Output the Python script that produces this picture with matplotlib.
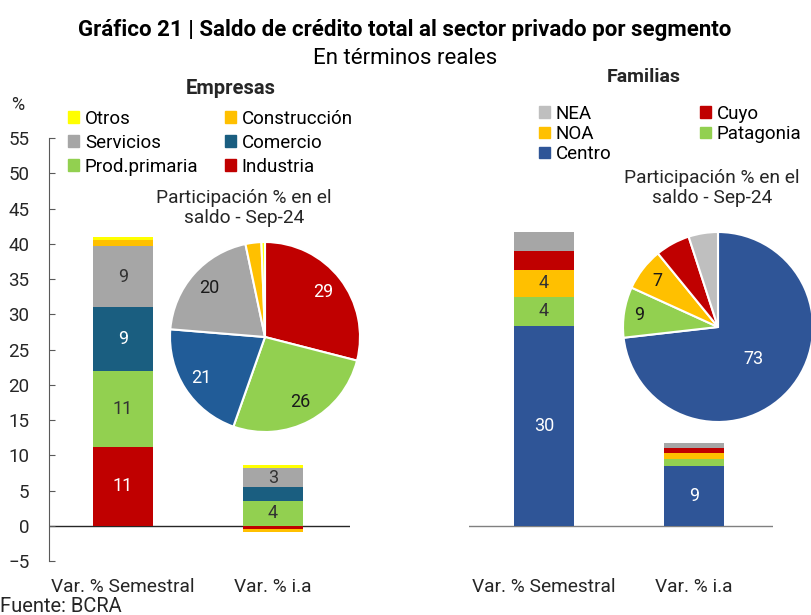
import numpy as np
import matplotlib
matplotlib.use("Agg")
import matplotlib.pyplot as plt
from matplotlib.patches import Patch

plt.rcParams['font.family'] = ['Roboto', 'DejaVu Sans']
NARROW = ['Liberation Sans Narrow', 'Roboto', 'DejaVu Sans']

# ---- data ----
categories = ["Var. % Semestral", "Var. % i.a"]

# Empresas (stack order bottom -> top)
emp_series = ["Industria", "Prod.primaria", "Comercio", "Servicios", "Construcción", "Otros"]
emp_values = {
    "Industria":     [11.2, -0.45],
    "Prod.primaria": [10.8, 3.5],
    "Comercio":      [9.0, 2.0],
    "Servicios":     [8.7, 2.65],
    "Construcción":  [0.9, -0.5],
    "Otros":         [0.4, 0.4],
}
emp_pie_labels = ["Industria", "Prod.primaria", "Comercio", "Servicios", "Construcción", "Otros"]
emp_pie_values = [29.0, 26.4, 20.9, 20.4, 2.7, 0.6]

# Familias
fam_series = ["Centro", "Patagonia", "NOA", "Cuyo", "NEA"]
fam_values = {
    "Centro":    [29.6, 8.9],
    "Patagonia": [4.4, 1.0],
    "NOA":       [3.9, 0.85],
    "Cuyo":      [2.8, 0.85],
    "NEA":       [2.9, 0.75],
}
fam_pie_labels = ["Centro", "Patagonia", "NOA", "Cuyo", "NEA"]
fam_pie_values = [73.2, 8.6, 7.3, 5.9, 5.0]

# ---- styles ----
emp_colors = {"Industria": "#C00000", "Prod.primaria": "#92D050", "Comercio": "#1A5E80",
              "Servicios": "#A6A6A6", "Construcción": "#FFC000", "Otros": "#FFFF00"}
emp_pie_colors = {**emp_colors, "Comercio": "#215C98"}
fam_colors = {"Centro": "#2F5597", "Patagonia": "#92D050", "NOA": "#FFC000",
              "Cuyo": "#C00000", "NEA": "#A6A6A6"}
fam_pie_colors = {**fam_colors, "NEA": "#BFBFBF"}
white_text = {"Industria", "Comercio", "Centro"}
DARK = "#262626"

W, H = 812, 615
fig = plt.figure(figsize=(W / 100, H / 100), dpi=100)


def box(x0, y0, x1, y1):
    return [x0 / W, 1 - y1 / H, (x1 - x0) / W, (y1 - y0) / H]


def ftext(x, y, s, color=DARK, **kw):
    fig.text(x / W, 1 - y / H, s, ha="center", va="center", color=color, **kw)


def stacked(ax, series, values, colors, thresh):
    x = np.arange(len(categories))
    pos = np.zeros(len(categories))
    neg = np.zeros(len(categories))
    for name in series:
        v = np.array(values[name])
        base = np.where(v >= 0, pos, neg)
        ax.bar(x, v, 0.4, bottom=base, color=colors[name], linewidth=0, zorder=2)
        for xi, vi, bi in zip(x, v, base):
            if abs(vi) >= thresh:
                ax.text(xi, bi + vi / 2, f"{vi:.0f}", ha="center", va="center", fontsize=13,
                        color="white" if name in white_text else "#333333", zorder=3)
        pos = pos + np.where(v >= 0, v, 0)
        neg = neg + np.where(v < 0, v, 0)
    ax.set_xticks(x)
    ax.set_xticklabels(categories, family=NARROW, fontsize=13.8, color=DARK)
    ax.tick_params(axis="x", length=0, pad=12)
    ax.set_facecolor("none")
    for s in ["top", "right", "bottom"]:
        ax.spines[s].set_visible(False)


# left bars
axL = fig.add_axes(box(49, 138, 350, 561))
stacked(axL, emp_series, emp_values, emp_colors, 2.5)
axL.set_xlim(-0.493, 1.513)
axL.set_ylim(-5, 55)
axL.set_yticks(np.arange(-5, 56, 5))
axL.tick_params(axis="y", direction="in", length=4, color="#595959", labelsize=13.5,
                labelcolor=DARK, pad=14)
axL.spines["left"].set_color("#595959")
axL.axhline(0, color="#262626", lw=1, zorder=1)

# right bars
axR = fig.add_axes(box(469, 138, 773, 561))
stacked(axR, fam_series, fam_values, fam_colors, 3.5)
axR.set_xlim(-0.5, 1.527)
axR.set_ylim(-5.2, 57.5)
axR.set_yticks([])
axR.spines["left"].set_visible(False)
axR.axhline(0, color="#808080", lw=1, zorder=1)


def pie(rect, labels, values, colors, dists):
    ax = fig.add_axes(box(*rect))
    wedges, _ = ax.pie(values, colors=[colors[l] for l in labels], startangle=90,
                       counterclock=False, radius=1,
                       wedgeprops=dict(edgecolor="white", linewidth=1.5))
    for w, l, v, d in zip(wedges, labels, values, dists):
        if v < 7:
            continue
        ang = np.deg2rad((w.theta1 + w.theta2) / 2)
        ax.text(d * np.cos(ang), d * np.sin(ang), f"{v:.0f}", ha="center", va="center",
                fontsize=13, color="white" if l in white_text else "#1a1a1a")
    ax.set_xlim(-1, 1)
    ax.set_ylim(-1, 1)
    ax.axis("off")
    return ax


pie((170, 242, 360, 432), emp_pie_labels, emp_pie_values, emp_pie_colors,
    [0.78, 0.78, 0.8, 0.78, 0.8, 0.8])
pie((623, 232, 813, 422), fam_pie_labels, fam_pie_values, fam_pie_colors,
    [0.5, 0.84, 0.8, 0.8, 0.8])

# legends
emp_leg = ["Otros", "Servicios", "Prod.primaria", "Construcción", "Comercio", "Industria"]
fig.legend(handles=[Patch(color=emp_colors[n]) for n in emp_leg], labels=emp_leg,
           ncol=2, loc="upper left", bbox_to_anchor=(68 / W, 1 - 110 / H), frameon=False,
           fontsize=13.5, handlelength=0.6, handleheight=0.6, handletextpad=0.3,
           columnspacing=1.4, labelspacing=0.31, borderpad=0, borderaxespad=0)
fam_leg = ["NEA", "NOA", "Centro", "Cuyo", "Patagonia"]
fig.legend(handles=[Patch(color=fam_pie_colors[n] if n == "NEA" else fam_colors[n]) for n in fam_leg],
           labels=fam_leg, ncol=2, loc="upper left", bbox_to_anchor=(539 / W, 1 - 105 / H),
           frameon=False, fontsize=13.5, handlelength=0.6, handleheight=0.6,
           handletextpad=0.3, columnspacing=4.7, labelspacing=0.11, borderpad=0,
           borderaxespad=0)

# texts
ftext(405, 30, "Gráfico 21 | Saldo de crédito total al sector privado por segmento",
      family=NARROW, fontsize=16, weight="bold", color="black")
ftext(405, 58, "En términos reales", fontsize=16, color="black")
ftext(231, 88, "Empresas", family=NARROW, fontsize=14.5, weight="bold")
ftext(644, 77, "Familias", family=NARROW, fontsize=14, weight="bold")
ftext(244, 208, "Participación % en el\nsaldo - Sep-24", fontsize=13.8, linespacing=1.15)
ftext(712, 188, "Participación % en el\nsaldo - Sep-24", fontsize=13.8, linespacing=1.15)
ftext(18, 105, "%", fontsize=13)
fig.text(0 / W, 1 - 606 / H, "Fuente: BCRA", ha="left", va="center", family=NARROW,
         fontsize=14.5, color=DARK)

fig.savefig("out.png", dpi=100)
